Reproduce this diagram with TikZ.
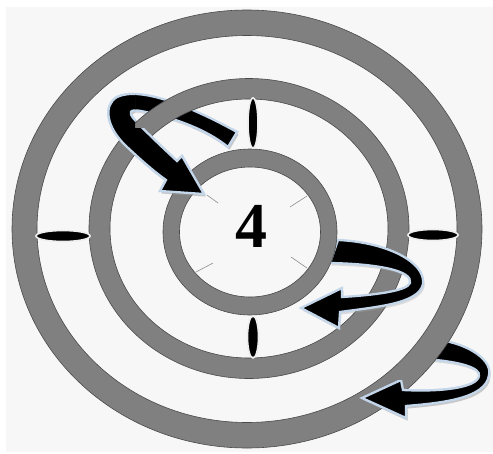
\documentclass[tikz,border=0pt]{standalone}
\usepackage{fontspec}
\setmainfont{Liberation Serif}
\definecolor{bggray}{HTML}{F7F7F7}
\definecolor{ringgray}{HTML}{808080}
\definecolor{ringedge}{HTML}{4A4A4A}
\definecolor{arrowedge}{HTML}{C4D6EA}
\definecolor{markeredge}{HTML}{EEEEEE}
\definecolor{tickgray}{HTML}{8C8C8C}
\newcommand{\arrowOnePath}{(237,132) .. controls (190,106) and (140,86) .. (117,97)
  .. controls (103,105) and (106,127) .. (126,146)
  .. controls (143,162) and (156,173) .. (166,180)
  -- (160,191) -- (204,194) -- (182,156) -- (177,161)
  .. controls (162,147) and (143,129) .. (134,119)
  .. controls (128,112) and (130,109) .. (141,111)
  .. controls (172,117) and (206,129) .. (228,147) -- cycle}
\newcommand{\arrowTwoPath}{(338,240) .. controls (386,242) and (426,262) .. (423,284)
  .. controls (419,304) and (375,307) .. (340,312)
  -- (339,328) -- (301,308) -- (342,288) -- (342,297)
  .. controls (375,295) and (407,291) .. (410,283)
  .. controls (413,271) and (380,264) .. (330,263) -- cycle}
\newcommand{\arrowThreePath}{(425,339) .. controls (461,339) and (493,358) .. (489,375)
  .. controls (486,399) and (440,403) .. (406,406)
  -- (406,418) -- (362,398) -- (401,380) -- (403,390)
  .. controls (440,392) and (477,388) .. (479,376)
  .. controls (481,368) and (460,361) .. (422,359) -- cycle}
\begin{document}
\begin{tikzpicture}[x=1pt,y=-1pt,
  ring/.style={fill=ringgray, draw=ringedge, line width=0.6pt, even odd rule},
  arrowbody/.style={fill=black, draw=arrowedge, line width=2.3pt, line join=miter},
  arrowshade/.style={fill=black!35, opacity=0.35},
  marker/.style={fill=black, draw=markeredge, line width=1.6pt},
  tick/.style={draw=tickgray, line width=0.6pt}]
\useasboundingbox (0,0) rectangle (493,453);
\fill[white] (0,0) rectangle (493,453);
\fill[bggray] (6,7) rectangle (493,452);
% arrows partly behind rings
\path[arrowshade, shift={(1.5,2.5)}] \arrowThreePath;
\path[arrowbody] \arrowThreePath;
\path[arrowshade, shift={(1.5,2.5)}] \arrowOnePath;
\path[arrowbody] \arrowOnePath;
% outer and middle rings
\coordinate (co) at (247,229);
\coordinate (cm) at (249,228.5);
\coordinate (ci) at (250,232);
\path[ring] (co) ellipse (235 and 219) (co) ellipse (210 and 193.5);
\path[ring] (cm) ellipse (160 and 150) (cm) ellipse (139 and 129.5);
% arrow 2 (tail under inner ring)
\path[arrowshade, shift={(1.5,2.5)}] \arrowTwoPath;
\path[arrowbody] \arrowTwoPath;
% inner ring
\path[ring] (ci) ellipse (87 and 83) (ci) ellipse (70.5 and 65);
% front parts of arrows
\begin{scope}
  \clip (0,380) rectangle (493,453);
  \path[arrowshade, shift={(1.5,2.5)}] \arrowThreePath;
  \path[arrowbody] \arrowThreePath;
\end{scope}
\begin{scope}
  \clip (0,0) -- (135,0) -- (135,128) -- (250,128) -- (250,453) -- (0,453) -- cycle;
  \path[arrowshade, shift={(1.5,2.5)}] \arrowOnePath;
  \path[arrowbody] \arrowOnePath;
\end{scope}
% markers
\path[marker] (253,123) ellipse (5 and 25);
\path[marker] (253,337) ellipse (5.5 and 21);
\path[marker] (63,236) ellipse (27 and 5.5);
\path[marker] (433,235) ellipse (25 and 5.5);
% ticks
\coordinate (t1a) at (207,195); \coordinate (t1b) at (218,203);
\coordinate (t2a) at (290,207); \coordinate (t2b) at (307,196);
\coordinate (t3a) at (196,272); \coordinate (t3b) at (213,263);
\coordinate (t4a) at (291,257); \coordinate (t4b) at (307,268);
\draw[tick] (t1a) -- (t1b);
\draw[tick] (t2a) -- (t2b);
\draw[tick] (t3a) -- (t3b);
\draw[tick] (t4a) -- (t4b);
\node[font=\bfseries\fontsize{64}{64}\selectfont, inner sep=0pt] (num) at (251,226) {4};
\end{tikzpicture}
\end{document}
